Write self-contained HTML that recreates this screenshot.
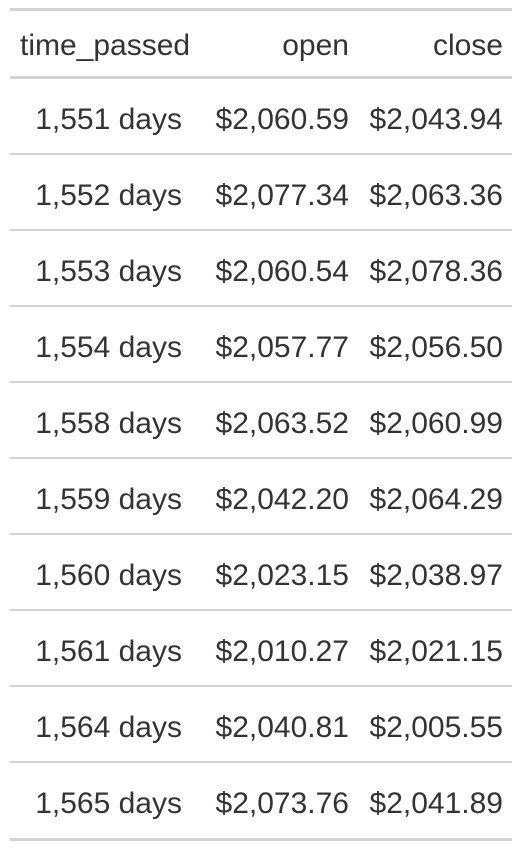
<!DOCTYPE html>
<html><head><meta charset="utf-8"><style>
body{margin:0;width:522px;height:850px;background:#fff;font-family:"Liberation Sans",sans-serif;color:#333;position:relative;overflow:hidden}
.l{position:absolute;left:10px;width:502px;background:#d3d3d3}
.c{position:absolute;font-size:30px;line-height:34px;white-space:nowrap}
.r{text-align:right}
</style></head><body>
<div class="l" style="top:8px;height:3px"></div>
<div class="c" style="left:20px;top:29px">time_passed</div>
<div class="c r" style="right:173px;top:29px">open</div>
<div class="c r" style="right:19px;top:29px">close</div>
<div class="l" style="top:76px;height:3px"></div>
<div id="rows"></div>
<script>
const times=["1,551 days","1,552 days","1,553 days","1,554 days","1,558 days","1,559 days","1,560 days","1,561 days","1,564 days","1,565 days"];
const opens=["$2,060.59","$2,077.34","$2,060.54","$2,057.77","$2,063.52","$2,042.20","$2,023.15","$2,010.27","$2,040.81","$2,073.76"];
const closes=["$2,043.94","$2,063.36","$2,078.36","$2,056.50","$2,060.99","$2,064.29","$2,038.97","$2,021.15","$2,005.55","$2,041.89"];
const b=document.body;
times.forEach((t,i)=>{
  const top=79+i*76;
  const cells=[[t,340],[opens[i],173],[closes[i],19]];
  cells.forEach((c,j)=>{
    const d=document.createElement('div');
    d.className='c r';
    d.style.right=c[1]+'px';
    d.style.top=(top+24)+'px';
    d.textContent=c[0];
    
    
    b.appendChild(d);
  });
  const ln=document.createElement('div');
  ln.className='l';
  const last=i===times.length-1;
  ln.style.top=(last?838:top+74)+'px';
  ln.style.height=(last?3:2)+'px';
  
  
  b.appendChild(ln);
});
</script>
</body></html>
